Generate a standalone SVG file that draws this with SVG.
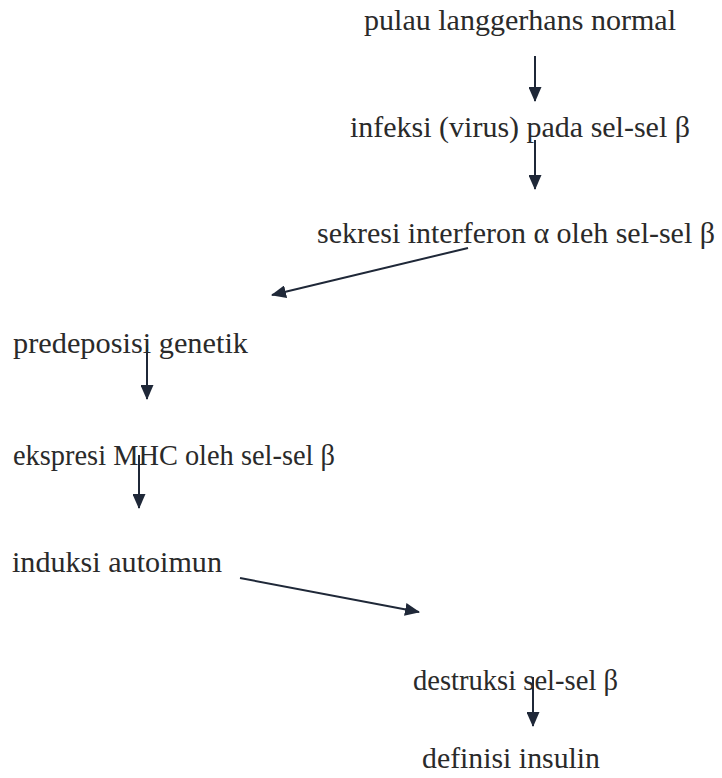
<svg xmlns="http://www.w3.org/2000/svg" width="722" height="778" viewBox="0 0 722 778">
<style>
text{font-family:"Liberation Serif","Times New Roman",serif;font-size:30px;fill:#2a2a2a}
.c line{stroke:#1f2838;stroke-width:2;marker-end:url(#ah)}
</style>
<defs>
<marker id="ah" markerUnits="userSpaceOnUse" markerWidth="15" markerHeight="13" refX="14" refY="6.5" orient="auto" viewBox="0 0 15 13">
<path d="M0,0 L15,6.5 L0,13 z" fill="#1f2838"/>
</marker>
</defs>
<rect width="722" height="778" fill="#ffffff"/>
<g id="n1"><text x="364" y="30" textLength="312" lengthAdjust="spacingAndGlyphs">pulau langgerhans normal</text></g>
<g id="n2"><text x="350" y="137" textLength="340" lengthAdjust="spacingAndGlyphs">infeksi (virus) pada sel-sel β</text></g>
<g id="n3"><text x="317" y="243" textLength="398" lengthAdjust="spacingAndGlyphs">sekresi interferon α oleh sel-sel β</text></g>
<g id="n4"><text x="13" y="353" textLength="235" lengthAdjust="spacingAndGlyphs">predeposisi genetik</text></g>
<g id="n5"><text x="13" y="465" textLength="322" lengthAdjust="spacingAndGlyphs">ekspresi MHC oleh sel-sel β</text></g>
<g id="n6"><text x="12" y="572" textLength="210" lengthAdjust="spacingAndGlyphs">induksi autoimun</text></g>
<g id="n7"><text x="413" y="690" textLength="205" lengthAdjust="spacingAndGlyphs">destruksi sel-sel β</text></g>
<g id="n8"><text x="422" y="768" textLength="178" lengthAdjust="spacingAndGlyphs">definisi insulin</text></g>
<g id="connectors" class="c">
<line x1="535" y1="56" x2="535" y2="101"/>
<line x1="535" y1="140" x2="535" y2="189"/>
<line x1="468" y1="248" x2="272" y2="295"/>
<line x1="147" y1="345" x2="147" y2="399"/>
<line x1="139" y1="455" x2="139" y2="508"/>
<line x1="240" y1="578" x2="419" y2="612"/>
<line x1="533" y1="677" x2="533" y2="726"/>
</g>
</svg>
